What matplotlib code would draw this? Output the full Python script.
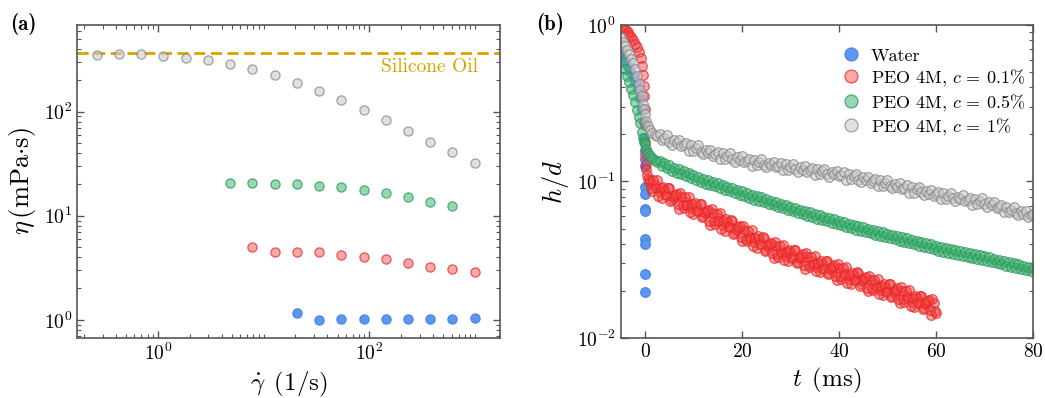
import numpy as np
import matplotlib
matplotlib.use("Agg")
import matplotlib.pyplot as plt
from matplotlib.ticker import LogLocator, FixedLocator, NullFormatter

plt.rcParams["font.family"] = "serif"
plt.rcParams["font.serif"] = ["cmr10", "DejaVu Serif"]
plt.rcParams["mathtext.fontset"] = "cm"
plt.rcParams["axes.formatter.use_mathtext"] = True
plt.rcParams["axes.unicode_minus"] = False

# ---- (a) shear viscosity ----
shear_rate = [0.265, 0.430, 0.697, 1.13, 1.84, 2.98, 4.83, 7.84, 12.7,
              20.6, 33.5, 54.3, 88.1, 143, 232, 377, 611, 991]
eta_1pct = [348, 357, 359, 345, 328, 312, 287, 257, 224,
            190, 158, 130, 104, 82.6, 65.1, 51.1, 40.8, 32.4]
eta_05pct = [20.7, 20.7, 20.3, 20.1, 19.4, 18.7, 17.8, 16.6, 15.2, 13.6, 12.4]
eta_01pct = [4.96, 4.44, 4.51, 4.44, 4.22, 4.04, 3.80, 3.53, 3.25, 3.07, 2.85]
eta_water = [1.16, 1.0, 1.02, 1.02, 1.02, 1.02, 1.02, 1.02, 1.04]
eta_silicone = 370

# ---- (b) thinning of the neck ----
t_water = [-4.9, -4.5, -4.0, -3.5, -3.0, -2.5, -2.0, -1.5, -1.0, -0.6, -0.3,
           -0.1, 0, 0, 0, 0, 0, 0, 0, 0, 0, 0, 0]
h_water = [0.64, 0.61, 0.58, 0.55, 0.51, 0.47, 0.43, 0.39, 0.34, 0.29, 0.24,
           0.19, 0.16, 0.139, 0.126, 0.092, 0.083, 0.067, 0.065, 0.043, 0.040,
           0.0257, 0.0196]

# c = 0.1 %: run 1 (early frames + every 0.5 ms), run 2 (shifted by 0.25 ms)
t_01_early = [-4.8, -4.4, -4.0, -3.6, -3.2, -2.8, -2.4, -2.0, -1.6, -1.2, -0.9,
              -0.6, -0.4, -0.25, -0.15, -0.05, 0.0, 0.05, 0.1, 0.15, 0.25, 0.4,
              0.6, 0.8]
t_01_late = list(np.arange(1.0, 60.01, 0.5))
h_01 = [0.97, 0.95, 0.93, 0.90, 0.87, 0.84, 0.80, 0.76, 0.72, 0.67, 0.62,
        0.55, 0.48, 0.41, 0.35, 0.29, 0.23, 0.18, 0.15, 0.13, 0.12, 0.11,
        0.103, 0.099,
        0.1028, 0.0874, 0.0949, 0.1019, 0.0854, 0.0783, 0.0884, 0.0818,
        0.0902, 0.0757, 0.0790, 0.0837, 0.0669, 0.0795, 0.0681, 0.0740,
        0.0795, 0.0672, 0.0621, 0.0702, 0.0647, 0.0715, 0.0602, 0.0625,
        0.0659, 0.0528, 0.0625, 0.0534, 0.0581, 0.0627, 0.0528, 0.0486,
        0.0551, 0.0510, 0.0561, 0.0470, 0.0490, 0.0518, 0.0414, 0.0488,
        0.0414, 0.0451, 0.0487, 0.0410, 0.0378, 0.0428, 0.0397, 0.0437,
        0.0367, 0.0382, 0.0405, 0.0326, 0.0387, 0.0331, 0.0362, 0.0393,
        0.0333, 0.0308, 0.0352, 0.0327, 0.0363, 0.0306, 0.0322, 0.0343,
        0.0276, 0.0329, 0.0282, 0.0308, 0.0335, 0.0283, 0.0262, 0.0298,
        0.0278, 0.0308, 0.0260, 0.0273, 0.0292, 0.0234, 0.0279, 0.0238,
        0.0261, 0.0282, 0.0239, 0.0221, 0.0253, 0.0235, 0.0261, 0.0220,
        0.0231, 0.0246, 0.0198, 0.0235, 0.0201, 0.0220, 0.0239, 0.0202,
        0.0187, 0.0213, 0.0198, 0.0220, 0.0185, 0.0195, 0.0207, 0.0167,
        0.0198, 0.0170, 0.0186, 0.0202, 0.0170, 0.0158, 0.0180, 0.0167,
        0.0185, 0.0156, 0.0164, 0.0175, 0.0141, 0.0167, 0.0144]
t_01_run2 = list(np.arange(1.25, 59.76, 0.5))
h_01_run2 = [0.0912, 0.1015, 0.0911, 0.0810, 0.0906, 0.0920, 0.0818, 0.0911,
             0.0748, 0.0806, 0.0822, 0.0714, 0.0846, 0.0708, 0.0792, 0.0711,
             0.0635, 0.0716, 0.0731, 0.0648, 0.0721, 0.0593, 0.0639, 0.0649,
             0.0563, 0.0666, 0.0556, 0.0621, 0.0559, 0.0500, 0.0561, 0.0572,
             0.0509, 0.0567, 0.0465, 0.0500, 0.0509, 0.0442, 0.0521, 0.0432,
             0.0482, 0.0435, 0.0388, 0.0437, 0.0445, 0.0397, 0.0441, 0.0362,
             0.0390, 0.0398, 0.0347, 0.0412, 0.0345, 0.0387, 0.0349, 0.0314,
             0.0355, 0.0364, 0.0326, 0.0365, 0.0302, 0.0327, 0.0336, 0.0294,
             0.0349, 0.0293, 0.0328, 0.0298, 0.0267, 0.0302, 0.0309, 0.0277,
             0.0310, 0.0257, 0.0278, 0.0286, 0.0249, 0.0297, 0.0248, 0.0279,
             0.0251, 0.0226, 0.0254, 0.0261, 0.0234, 0.0262, 0.0216, 0.0234,
             0.0240, 0.0210, 0.0250, 0.0209, 0.0234, 0.0212, 0.0191, 0.0215,
             0.0221, 0.0197, 0.0221, 0.0182, 0.0198, 0.0203, 0.0178, 0.0211,
             0.0177, 0.0198, 0.0179, 0.0160, 0.0181, 0.0186, 0.0167, 0.0186,
             0.0154, 0.0167, 0.0171, 0.0150, 0.0178, 0.0149]

t_early = [-4.9, -4.5, -4.1, -3.7, -3.3, -2.9, -2.5, -2.1, -1.7, -1.3, -1.0,
           -0.7, -0.4, -0.2, 0.0, 0.3, 0.7, 1.1, 1.5, 2.0, 2.5]
t_late = list(np.arange(3.0, 80.01, 0.5))

h_05 = [0.68, 0.58, 0.52, 0.47, 0.43, 0.39, 0.355, 0.32, 0.288, 0.26, 0.235,
        0.207, 0.19, 0.18, 0.173, 0.162, 0.153, 0.146, 0.141, 0.137, 0.134,
        0.1349, 0.1251, 0.1308, 0.1213, 0.1267, 0.1174, 0.1226, 0.1140,
        0.1195, 0.1111, 0.1164, 0.1082, 0.1133, 0.1052, 0.1102, 0.1023,
        0.1071, 0.0994, 0.1040, 0.0970, 0.1020, 0.0951, 0.0999, 0.0931,
        0.0979, 0.0907, 0.0948, 0.0883, 0.0927, 0.0863, 0.0906, 0.0844,
        0.0886, 0.0825, 0.0865, 0.0805, 0.0845, 0.0786, 0.0824, 0.0766,
        0.0803, 0.0752, 0.0793, 0.0737, 0.0773, 0.0718, 0.0752, 0.0703,
        0.0742, 0.0689, 0.0721, 0.0674, 0.0711, 0.0660, 0.0690, 0.0645,
        0.0680, 0.0631, 0.0659, 0.0616, 0.0649, 0.0606, 0.0639, 0.0594,
        0.0623, 0.0579, 0.0608, 0.0567, 0.0597, 0.0558, 0.0587, 0.0545,
        0.0572, 0.0534, 0.0561, 0.0524, 0.0551, 0.0512, 0.0538, 0.0501,
        0.0527, 0.0492, 0.0517, 0.0482, 0.0508, 0.0473, 0.0499, 0.0466,
        0.0490, 0.0457, 0.0481, 0.0449, 0.0473, 0.0441, 0.0465, 0.0434,
        0.0456, 0.0426, 0.0448, 0.0418, 0.0440, 0.0410, 0.0433, 0.0404,
        0.0425, 0.0397, 0.0417, 0.0389, 0.0410, 0.0382, 0.0403, 0.0375,
        0.0396, 0.0369, 0.0388, 0.0362, 0.0381, 0.0355, 0.0374, 0.0349,
        0.0369, 0.0344, 0.0363, 0.0339, 0.0357, 0.0334, 0.0352, 0.0329,
        0.0347, 0.0324, 0.0342, 0.0320, 0.0338, 0.0315, 0.0332, 0.0309,
        0.0327, 0.0305, 0.0321, 0.0300, 0.0316, 0.0295, 0.0311, 0.0290,
        0.0306, 0.0285, 0.0301, 0.0280, 0.0296, 0.0275, 0.0290, 0.0271,
        0.0285, 0.0266, 0.0280]

h_1 = [0.84, 0.78, 0.73, 0.69, 0.65, 0.61, 0.57, 0.52, 0.47, 0.42, 0.385,
       0.35, 0.315, 0.29, 0.27, 0.245, 0.226, 0.213, 0.205, 0.199, 0.196,
       0.200, 0.184, 0.191, 0.198, 0.180, 0.172, 0.183, 0.175, 0.184, 0.168,
       0.171, 0.176, 0.157, 0.170, 0.157, 0.164, 0.170, 0.155, 0.149, 0.159,
       0.152, 0.160, 0.146, 0.150, 0.155, 0.139, 0.151, 0.140, 0.145, 0.152,
       0.139, 0.134, 0.143, 0.138, 0.145, 0.133, 0.136, 0.140, 0.126, 0.1375,
       0.128, 0.133, 0.139, 0.128, 0.1235, 0.1316, 0.1267, 0.1339, 0.1232,
       0.1265, 0.131, 0.118, 0.1288, 0.119, 0.1242, 0.1299, 0.1196, 0.1154,
       0.1234, 0.1188, 0.125, 0.115, 0.118, 0.1222, 0.110, 0.120, 0.1114,
       0.1162, 0.1208, 0.1112, 0.1074, 0.1148, 0.1109, 0.1171, 0.1077,
       0.1105, 0.1144, 0.1025, 0.1112, 0.1032, 0.1081, 0.1124, 0.1029,
       0.0993, 0.1061, 0.102, 0.1071, 0.0985, 0.101, 0.104, 0.0931, 0.1015,
       0.0941, 0.098, 0.1018, 0.0936, 0.0903, 0.0959, 0.0921, 0.0971, 0.0892,
       0.0915, 0.0946, 0.0846, 0.0917, 0.085, 0.0889, 0.0928, 0.0853, 0.0817,
       0.0867, 0.0837, 0.0882, 0.081, 0.083, 0.0858, 0.0771, 0.0839, 0.0778,
       0.0813, 0.0848, 0.0779, 0.0751, 0.0801, 0.0772, 0.0814, 0.0747,
       0.0765, 0.079, 0.071, 0.0773, 0.0715, 0.0747, 0.0779, 0.0715, 0.0689,
       0.0734, 0.0703, 0.074, 0.0679, 0.069, 0.0712, 0.0639, 0.069, 0.0634,
       0.0662, 0.0689, 0.0632, 0.0608, 0.0648, 0.0624, 0.0651, 0.0597, 0.061,
       0.0624]

legend_labels = ["Water", r"PEO 4M, $c$ = 0.1%", r"PEO 4M, $c$ = 0.5%",
                 r"PEO 4M, $c$ = 1%"]

# marker styles (face, edge)
blue = dict(mfc="#5b97f2", mec="#4a86e6")
red = dict(mfc=(0.95, 0.25, 0.25, 0.45), mec=(0.92, 0.15, 0.15, 0.75))
green = dict(mfc=(0.25, 0.72, 0.45, 0.55), mec=(0.2, 0.6, 0.38, 0.8))
grey = dict(mfc=(0.8, 0.8, 0.8, 0.6), mec=(0.55, 0.55, 0.55, 0.8))

spine_col = "#555555"
ms = 6.6


def style_axes(ax):
    for s in ax.spines.values():
        s.set_color(spine_col)
        s.set_linewidth(1.2)
    ax.tick_params(which="both", direction="in", top=True, right=True,
                   color=spine_col, labelsize=14)
    ax.tick_params(which="major", length=5, width=1.0)
    ax.tick_params(which="minor", length=3, width=0.8)


fig = plt.figure(figsize=(10.45, 3.98), dpi=100)
ax1 = fig.add_axes([0.0737, 0.151, 0.405, 0.786])
ax2 = fig.add_axes([0.594, 0.151, 0.3945, 0.786])

# panel (a)
ax1.axhline(eta_silicone, color="#d6a400", lw=2.0, ls=(0, (4, 2)), zorder=1)
ax1.plot(shear_rate, eta_1pct, "o", ms=ms, mew=0.9, **grey)
ax1.plot(shear_rate[6:17], eta_05pct, "o", ms=ms, mew=0.9, **green)
ax1.plot(shear_rate[7:], eta_01pct, "o", ms=ms, mew=0.9, **red)
ax1.plot(shear_rate[9:], eta_water, "o", ms=ms, mew=0.9, **blue)
ax1.text(0.948, 0.867, "Silicone Oil", transform=ax1.transAxes, ha="right",
         va="center", color="#d6a400", fontsize=14)
ax1.set_xscale("log")
ax1.set_yscale("log")
ax1.set_xlim(0.172, 1730)
ax1.set_ylim(0.67, 680)
ax1.xaxis.set_major_locator(FixedLocator([1, 100]))
ax1.xaxis.set_minor_locator(LogLocator(base=10, subs=np.arange(1, 10), numticks=20))
ax1.xaxis.set_minor_formatter(NullFormatter())
ax1.yaxis.set_major_locator(LogLocator(base=10, numticks=10))
ax1.yaxis.set_minor_locator(LogLocator(base=10, subs=np.arange(2, 10), numticks=20))
ax1.yaxis.set_minor_formatter(NullFormatter())
ax1.set_xlabel(r"$\dot{\gamma}\ \,(1/\mathrm{s})$", fontsize=18)
ax1.set_ylabel(r"$\eta\,(\mathrm{mPa{\cdot}s})$", fontsize=19, labelpad=4)
style_axes(ax1)

# panel (b)
ax2.plot(t_water, h_water, "o", ms=ms + 0.3, mew=0.9, label=legend_labels[0], **blue)
ax2.plot(t_01_early + t_01_late + t_01_run2, h_01 + h_01_run2, "o",
         ms=ms + 0.3, mew=0.9, label=legend_labels[1], **red)
ax2.plot(t_early + t_late, h_05, "o", ms=ms + 0.3, mew=0.9, label=legend_labels[2], **green)
ax2.plot(t_early + t_late, h_1, "o", ms=ms + 0.3, mew=0.9, label=legend_labels[3], **grey)
ax2.set_yscale("log")
ax2.set_xlim(-5, 80)
ax2.set_ylim(0.01, 1)
ax2.set_xticks([0, 20, 40, 60, 80])
ax2.yaxis.set_minor_locator(LogLocator(base=10, subs=np.arange(2, 10), numticks=20))
ax2.yaxis.set_minor_formatter(NullFormatter())
ax2.set_xlabel(r"$t\ \,(\mathrm{ms})$", fontsize=18)
ax2.set_ylabel(r"$h/d$", fontsize=19)
style_axes(ax2)
ax2.legend(loc="upper left", bbox_to_anchor=(0.515, 0.95), frameon=False,
           fontsize=13, markerscale=1.35, handlelength=1.2, handletextpad=0.5,
           labelspacing=0.2, borderaxespad=0)

fig.text(0.010, 0.94, "(a)", fontsize=15, va="center", family="cmb10")
fig.text(0.513, 0.94, "(b)", fontsize=15, va="center", family="cmb10")

fig.savefig("out.png", dpi=100)
